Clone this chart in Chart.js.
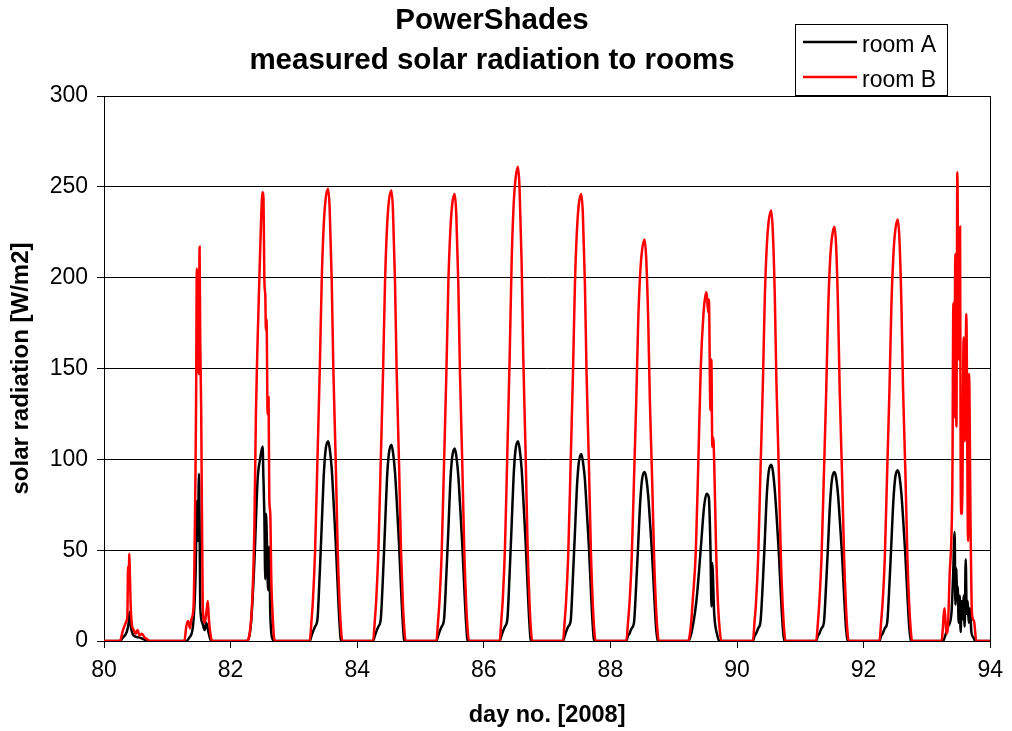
<!DOCTYPE html>
<html>
<head>
<meta charset="utf-8">
<title>PowerShades</title>
<script src="https://cdn.jsdelivr.net/npm/chart.js@4.4.1/dist/chart.umd.min.js"></script>
<style>
  html, body { margin: 0; padding: 0; background: #fff; }
  #wrap { width: 1012px; height: 731px; }
</style>
</head>
<body>
<div id="wrap"><canvas id="chart" width="1012" height="731"></canvas></div>
<script>
// measured solar radiation behind the shades, [day no., W/m2]
const titleLines = ['PowerShades', 'measured solar radiation to rooms'];
const seriesNames = ['room A', 'room B'];
const xTicks = [80, 82, 84, 86, 88, 90, 92, 94];
const yTicks = [0, 50, 100, 150, 200, 250, 300];

const roomA = [
  [80.00, 0],
  [80.25, 0], [80.30, 2], [80.36, 5], [80.39, 10], [80.405, 16], [80.415, 13], [80.43, 7], [80.47, 3], [80.55, 2], [80.62, 1], [80.70, 0],
  [81.30, 0], [81.35, 2], [81.405, 8], [81.447, 37], [81.467, 77], [81.483, 55], [81.50, 92], [81.51, 65], [81.52, 19], [81.553, 10], [81.589, 6], [81.615, 10], [81.656, 4], [81.694, 0],
  [82.254, 0], [82.323, 10], [82.375, 43], [82.427, 89], [82.465, 100], [82.506, 107], [82.517, 92], [82.533, 70], [82.548, 34], [82.559, 70], [82.575, 52], [82.585, 34], [82.60, 28], [82.611, 52], [82.627, 15], [82.663, 1], [82.69, 0],
  [83.25, 0], [83.28, 3], [83.30, 5], [83.335, 8], [83.372, 12], [83.409, 38], [83.44, 64], [83.47, 90], [83.50, 105], [83.54, 110], [83.565, 106], [83.597, 95], [83.623, 79], [83.66, 55], [83.692, 30], [83.72, 10], [83.745, 0],
  [84.25, 0], [84.28, 3], [84.30, 5], [84.335, 8], [84.372, 12], [84.409, 37], [84.44, 63], [84.47, 89], [84.50, 103], [84.54, 108], [84.565, 104], [84.597, 93], [84.623, 78], [84.66, 54], [84.692, 29], [84.72, 10], [84.745, 0],
  [85.25, 0], [85.28, 3], [85.30, 5], [85.335, 8], [85.372, 12], [85.409, 37], [85.44, 61], [85.47, 87], [85.50, 101], [85.54, 106], [85.565, 102], [85.597, 91], [85.623, 76], [85.66, 53], [85.692, 29], [85.72, 10], [85.745, 0],
  [86.25, 0], [86.28, 3], [86.30, 5], [86.335, 8], [86.372, 12], [86.409, 38], [86.44, 64], [86.47, 90], [86.50, 105], [86.54, 110], [86.565, 106], [86.597, 95], [86.623, 79], [86.66, 55], [86.692, 30], [86.72, 10], [86.745, 0],
  [87.25, 0], [87.28, 3], [87.30, 5], [87.335, 8], [87.372, 11], [87.409, 36], [87.44, 60], [87.47, 84], [87.50, 98], [87.54, 103], [87.565, 99], [87.597, 89], [87.623, 74], [87.66, 52], [87.692, 28], [87.72, 9], [87.745, 0],
  [88.25, 0], [88.28, 3], [88.30, 4], [88.335, 7], [88.372, 10], [88.409, 32], [88.44, 54], [88.47, 76], [88.50, 89], [88.54, 93], [88.565, 90], [88.597, 80], [88.623, 67], [88.66, 47], [88.692, 25], [88.72, 8], [88.745, 0],
  [89.23, 0], [89.32, 12], [89.37, 26], [89.43, 52], [89.48, 74], [89.52, 81], [89.555, 79], [89.58, 52], [89.597, 19], [89.608, 43], [89.64, 15], [89.69, 3], [89.72, 0],
  [90.25, 0], [90.28, 3], [90.30, 4], [90.335, 7], [90.372, 11], [90.409, 33], [90.44, 56], [90.47, 80], [90.50, 93], [90.54, 97], [90.565, 94], [90.597, 83], [90.623, 70], [90.66, 49], [90.692, 26], [90.72, 9], [90.745, 0],
  [91.25, 0], [91.28, 3], [91.30, 4], [91.335, 7], [91.372, 10], [91.409, 32], [91.44, 54], [91.47, 76], [91.50, 89], [91.54, 93], [91.565, 90], [91.597, 80], [91.623, 67], [91.66, 47], [91.692, 25], [91.72, 8], [91.745, 0],
  [92.25, 0], [92.28, 3], [92.30, 4], [92.335, 7], [92.372, 10], [92.409, 32], [92.44, 55], [92.47, 77], [92.50, 90], [92.54, 94], [92.565, 91], [92.597, 81], [92.623, 68], [92.66, 47], [92.692, 25], [92.72, 8], [92.745, 0],
  [93.256, 0], [93.29, 3], [93.335, 8], [93.387, 15], [93.413, 35], [93.438, 60], [93.45, 20], [93.466, 40], [93.474, 25], [93.486, 30], [93.502, 10], [93.518, 25], [93.533, 5], [93.55, 22], [93.565, 12], [93.58, 25], [93.597, 8], [93.613, 45], [93.629, 15], [93.645, 22], [93.66, 10], [93.682, 18], [93.702, 5], [93.734, 2], [93.765, 0],
  [94.00, 0]
];

const roomB = [
  [80.00, 0],
  [80.25, 0], [80.30, 6], [80.355, 11], [80.37, 15], [80.38, 41], [80.39, 30], [80.40, 48], [80.41, 35], [80.42, 21], [80.44, 9], [80.47, 6], [80.50, 4], [80.53, 6], [80.56, 3], [80.60, 4], [80.64, 2], [80.68, 1], [80.72, 0],
  [81.27, 0], [81.30, 8], [81.33, 11], [81.36, 7], [81.38, 12], [81.415, 19], [81.445, 92], [81.455, 133], [81.467, 205], [81.483, 184], [81.497, 147], [81.51, 217], [81.52, 166], [81.535, 129], [81.56, 19], [81.59, 10], [81.615, 15], [81.64, 22], [81.655, 13], [81.69, 2], [81.72, 0],
  [82.245, 0], [82.32, 10], [82.375, 61], [82.40, 125], [82.427, 166], [82.454, 199], [82.48, 230], [82.505, 247], [82.52, 243], [82.533, 199], [82.548, 190], [82.558, 171], [82.568, 177], [82.585, 125], [82.60, 134], [82.611, 79], [82.627, 70], [82.643, 34], [82.663, 15], [82.69, 1], [82.717, 0],
  [83.25, 0], [83.28, 12], [83.30, 22], [83.335, 50], [83.372, 100], [83.409, 150], [83.44, 199], [83.47, 228], [83.50, 243], [83.54, 249], [83.565, 238], [83.597, 199], [83.623, 150], [83.66, 100], [83.692, 50], [83.72, 22], [83.745, 6], [83.765, 0],
  [84.25, 0], [84.28, 12], [84.30, 22], [84.335, 50], [84.372, 99], [84.409, 149], [84.44, 198], [84.47, 227], [84.50, 242], [84.54, 248], [84.565, 237], [84.597, 198], [84.623, 149], [84.66, 99], [84.692, 50], [84.72, 22], [84.745, 6], [84.765, 0],
  [85.25, 0], [85.28, 12], [85.30, 22], [85.335, 49], [85.372, 98], [85.409, 148], [85.44, 197], [85.47, 225], [85.50, 240], [85.54, 246], [85.565, 235], [85.597, 197], [85.623, 148], [85.66, 98], [85.692, 49], [85.72, 22], [85.745, 6], [85.765, 0],
  [86.25, 0], [86.28, 13], [86.30, 23], [86.335, 52], [86.372, 104], [86.409, 157], [86.44, 209], [86.47, 239], [86.50, 254], [86.54, 261], [86.565, 249], [86.597, 209], [86.623, 157], [86.66, 104], [86.692, 52], [86.72, 23], [86.745, 6], [86.765, 0],
  [87.25, 0], [87.28, 12], [87.30, 22], [87.335, 49], [87.372, 98], [87.409, 148], [87.44, 197], [87.47, 225], [87.50, 240], [87.54, 246], [87.565, 235], [87.597, 197], [87.623, 148], [87.66, 98], [87.692, 49], [87.72, 22], [87.745, 6], [87.765, 0],
  [88.25, 0], [88.28, 11], [88.30, 20], [88.335, 44], [88.372, 88], [88.409, 133], [88.44, 177], [88.47, 202], [88.50, 215], [88.54, 221], [88.565, 211], [88.597, 177], [88.623, 133], [88.66, 88], [88.692, 44], [88.72, 19], [88.745, 5], [88.765, 0],
  [89.23, 0], [89.27, 8], [89.30, 22], [89.35, 50], [89.39, 100], [89.427, 150], [89.47, 180], [89.50, 190], [89.52, 192], [89.544, 181], [89.556, 188], [89.58, 127], [89.595, 155], [89.61, 107], [89.625, 112], [89.64, 98], [89.67, 50], [89.70, 20], [89.73, 5], [89.753, 0],
  [90.25, 0], [90.28, 12], [90.30, 21], [90.335, 47], [90.372, 95], [90.409, 142], [90.44, 190], [90.47, 217], [90.50, 231], [90.54, 237], [90.565, 226], [90.597, 190], [90.623, 142], [90.66, 95], [90.692, 47], [90.72, 21], [90.745, 6], [90.765, 0],
  [91.25, 0], [91.28, 11], [91.30, 21], [91.335, 46], [91.372, 91], [91.409, 137], [91.44, 182], [91.47, 209], [91.50, 222], [91.54, 228], [91.565, 218], [91.597, 182], [91.623, 137], [91.66, 91], [91.692, 46], [91.72, 20], [91.745, 5], [91.765, 0],
  [92.25, 0], [92.28, 12], [92.30, 21], [92.335, 46], [92.372, 93], [92.409, 139], [92.44, 186], [92.47, 212], [92.50, 226], [92.54, 232], [92.565, 222], [92.597, 186], [92.623, 139], [92.66, 93], [92.692, 46], [92.72, 20], [92.745, 6], [92.765, 0],
  [93.23, 0], [93.28, 18], [93.308, 4], [93.335, 10], [93.36, 37], [93.387, 57], [93.403, 90], [93.418, 186], [93.43, 123], [93.45, 213], [93.466, 118], [93.481, 258], [93.502, 155], [93.524, 228], [93.533, 100], [93.545, 70], [93.56, 81], [93.58, 167], [93.597, 110], [93.623, 180], [93.65, 55], [93.666, 147], [93.69, 63], [93.712, 15], [93.744, 11], [93.78, 0],
  [94.00, 0]
];

const FONT = "'Liberation Sans', Arial, sans-serif";
Chart.defaults.font.family = FONT;
Chart.defaults.color = '#000';

const toPoints = rows => rows.map(([x, y]) => ({ x, y }));

// title, plot frame and the boxed legend are drawn by hand
const frameAndLegend = {
  id: 'frameAndLegend',
  beforeDatasetsDraw(chart) {
    const { ctx, chartArea: a } = chart;
    ctx.save();
    ctx.strokeStyle = '#000';
    ctx.lineWidth = 1;
    ctx.strokeRect(Math.round(a.left) + 0.5, Math.round(a.top) + 0.5,
      Math.round(a.right - a.left), Math.round(a.bottom - a.top));
    ctx.restore();
  },
  afterDraw(chart) {
    const ctx = chart.ctx;
    ctx.save();
    ctx.fillStyle = '#000';
    ctx.textAlign = 'center';
    ctx.textBaseline = 'alphabetic';
    ctx.font = 'bold 29.5px ' + FONT;
    ctx.fillText(titleLines[0], 492, 29);
    ctx.fillText(titleLines[1], 492, 69);

    // legend
    ctx.fillStyle = '#fff';
    ctx.fillRect(795.5, 24.5, 152, 71);
    ctx.strokeStyle = '#000';
    ctx.lineWidth = 1;
    ctx.strokeRect(795.5, 24.5, 152, 71);
    ctx.textAlign = 'left';
    ctx.font = '23px ' + FONT;
    chart.data.datasets.forEach((ds, i) => {
      const y = 42 + i * 35;
      ctx.strokeStyle = ds.borderColor;
      ctx.lineWidth = 2.5;
      ctx.beginPath();
      ctx.moveTo(803, y);
      ctx.lineTo(857, y);
      ctx.stroke();
      ctx.fillStyle = '#000';
      ctx.fillText(ds.label, 862, y + 10);
    });
    ctx.restore();
  }
};

new Chart(document.getElementById('chart'), {
  type: 'line',
  data: {
    datasets: [
      {
        label: seriesNames[0],
        data: toPoints(roomA),
        borderColor: '#000000',
        borderWidth: 2.5,
        pointRadius: 0,
        cubicInterpolationMode: 'monotone',
        order: 1
      },
      {
        label: seriesNames[1],
        data: toPoints(roomB),
        borderColor: '#ff0000',
        borderWidth: 2.5,
        pointRadius: 0,
        cubicInterpolationMode: 'monotone',
        order: 0
      }
    ]
  },
  options: {
    responsive: false,
    animation: false,
    events: [],
    layout: { padding: { top: 96, right: 18, left: 0, bottom: 0 } },
    plugins: {
      legend: { display: false },
      title: { display: false },
      tooltip: { enabled: false }
    },
    scales: {
      x: {
        type: 'linear',
        min: xTicks[0],
        max: xTicks[xTicks.length - 1],
        afterBuildTicks: s => { s.ticks = xTicks.map(v => ({ value: v })); },
        afterFit: s => { s.height = 90; },
        grid: { drawOnChartArea: false, color: '#000', tickLength: 7, tickWidth: 1 },
        border: { color: '#000', width: 1 },
        ticks: { font: { size: 23 }, padding: 9, maxRotation: 0 },
        title: {
          display: true,
          text: 'day no. [2008]',
          font: { size: 23.5, weight: 'bold' },
          padding: { top: 0, bottom: 1 }
        }
      },
      y: {
        min: yTicks[0],
        max: yTicks[yTicks.length - 1],
        afterBuildTicks: s => { s.ticks = yTicks.map(v => ({ value: v })); },
        afterFit: s => { s.width = 104; },
        grid: { color: '#000', lineWidth: 1, tickLength: 7 },
        border: { color: '#000', width: 1 },
        ticks: { font: { size: 23 }, padding: 9 },
        title: {
          display: true,
          text: 'solar radiation [W/m2]',
          font: { size: 24, weight: 'bold' },
          padding: { top: 7, bottom: 0 }
        }
      }
    }
  },
  plugins: [frameAndLegend]
});
</script>
</body>
</html>
